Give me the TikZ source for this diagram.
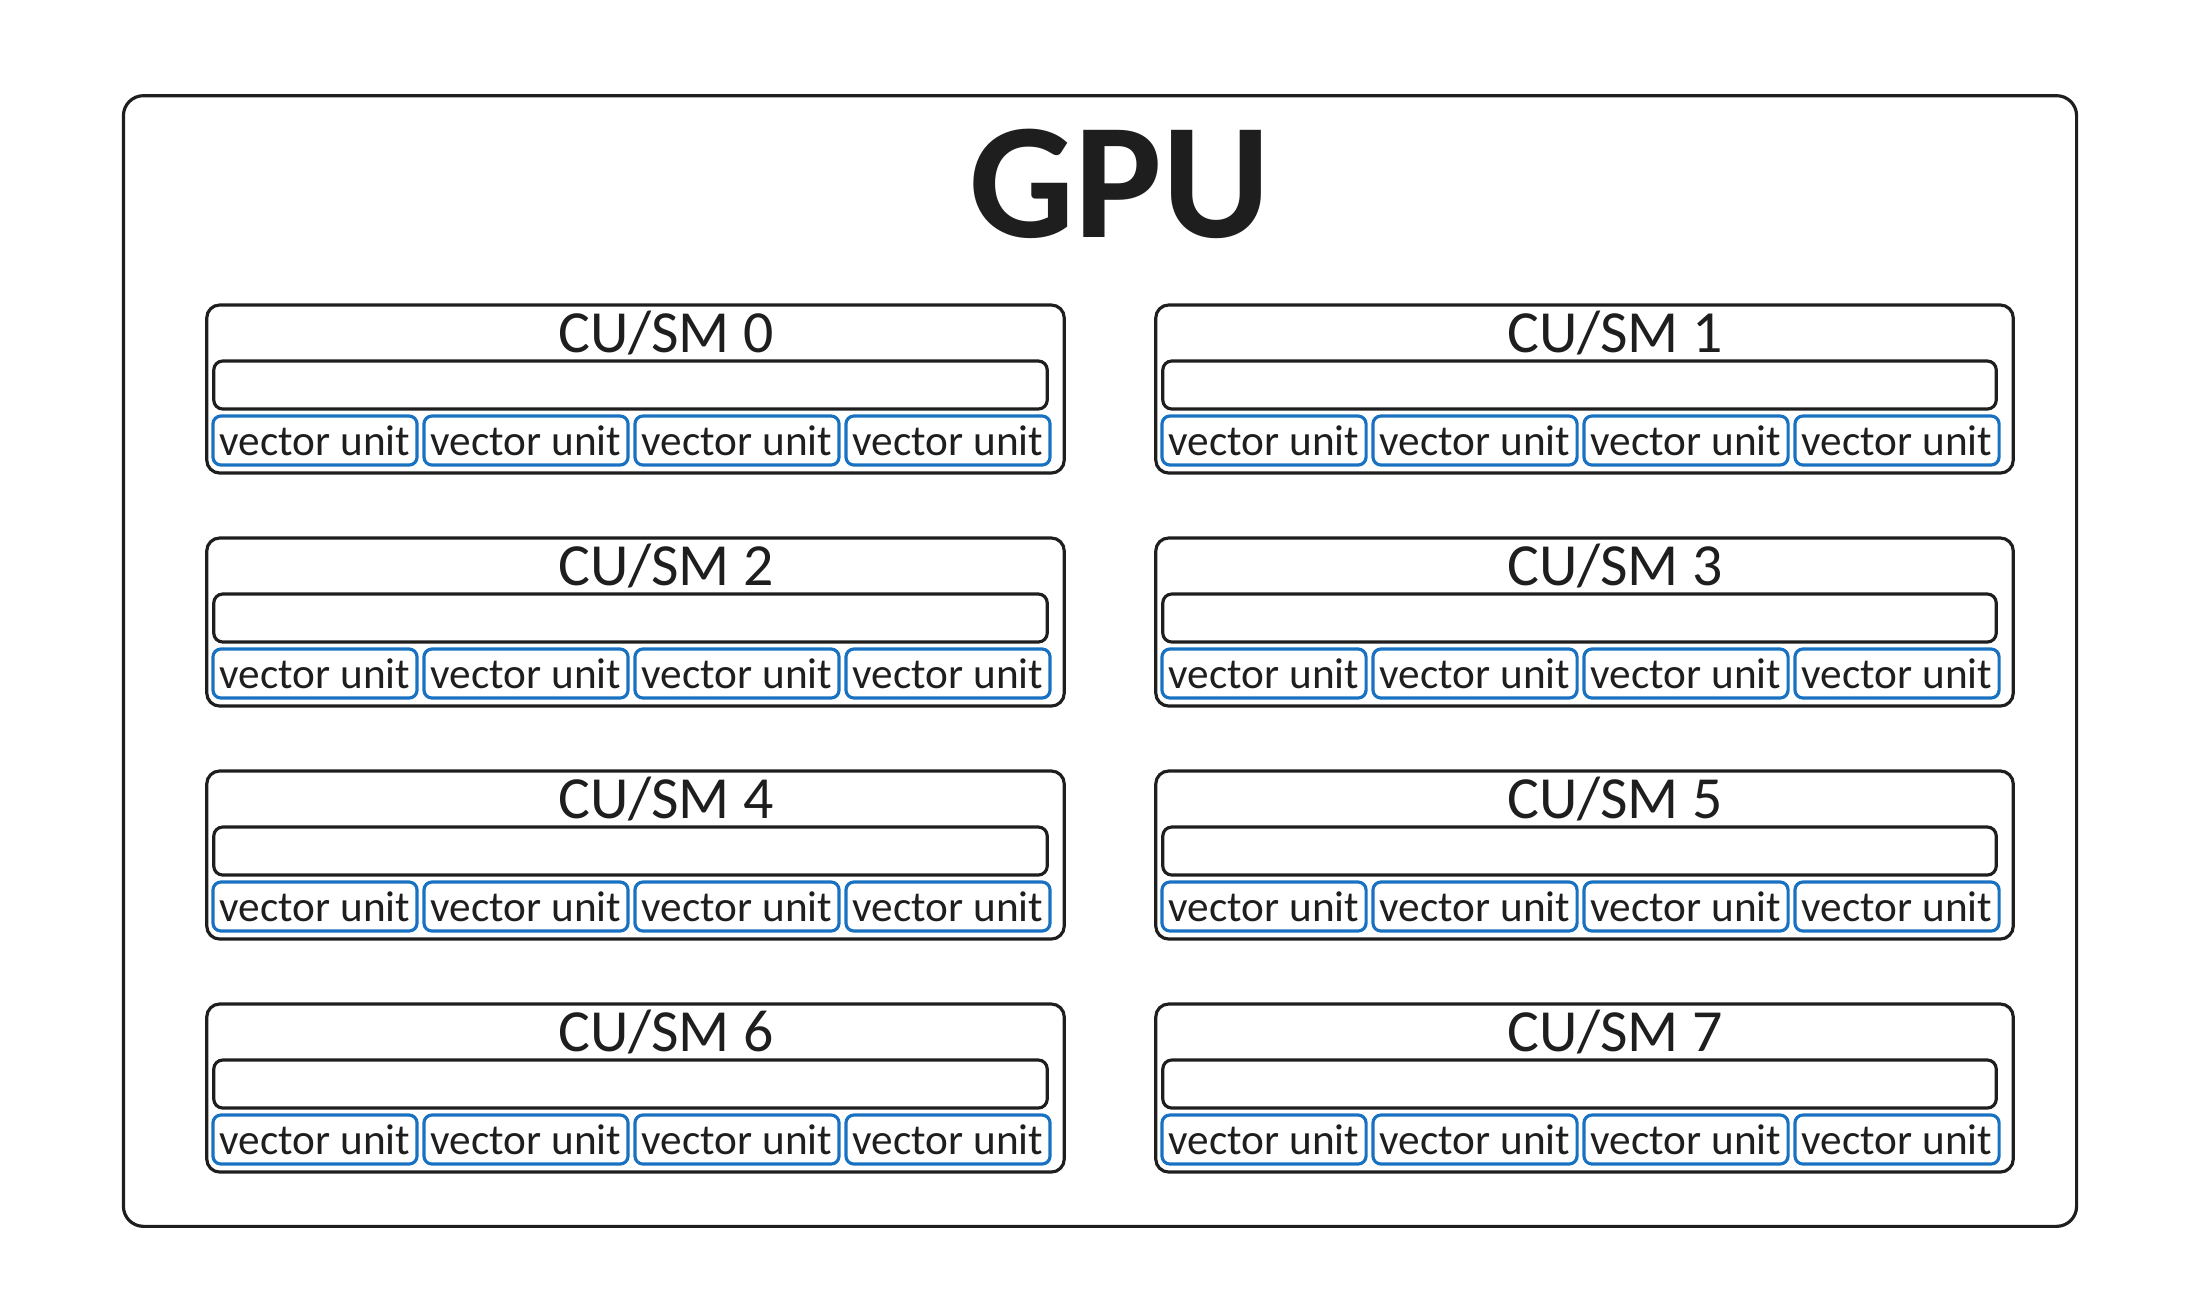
\documentclass[tikz,border=0pt]{standalone}
\usepackage{fontspec}
\setmainfont{Carlito}
\definecolor{ink}{HTML}{1E1E1E}
\definecolor{vblue}{HTML}{1971C2}
\begin{document}
\begin{tikzpicture}[x=0.01cm,y=-0.01cm,
  gpubox/.style={draw=ink, line width=0.9pt, rounded corners=0.2cm, minimum width=19.52cm, minimum height=11.30cm, inner sep=0pt},
  cubox/.style={draw=ink, line width=0.9pt, rounded corners=0.13cm, minimum width=8.57cm, minimum height=1.68cm, inner sep=0pt},
  busbox/.style={draw=ink, line width=0.9pt, rounded corners=0.09cm, minimum width=8.33cm, minimum height=0.48cm, inner sep=0pt},
  vecbox/.style={draw=vblue, line width=0.9pt, rounded corners=0.08cm, minimum width=2.04cm, minimum height=0.49cm, inner sep=0pt, text=ink, font=\fontsize{12.3}{14}\selectfont},
  cutitle/.style={anchor=base, text=ink, font=\fontsize{17}{20}\selectfont, inner sep=0pt}]
\useasboundingbox (0,0) rectangle (2195,1308);
\node[gpubox] (gpu) at (1100,661) {};
\node[anchor=base, text=ink, inner sep=0pt, font=\bfseries\fontsize{47}{47}\selectfont] (gputitle) at (1120,237) {GPU};
% eight compute units, two columns
\foreach \i in {0,...,7} {
  \pgfmathtruncatemacro{\col}{mod(\i,2)}
  \pgfmathtruncatemacro{\row}{div(\i,2)}
  \pgfmathsetmacro{\lx}{207+949*\col}
  \pgfmathsetmacro{\ty}{305+233*\row}
  \node[cubox] (cu\i) at (\lx+428.5,\ty+84) {};
  \node[cutitle] (cut\i) at (\lx+459,\ty+47) {CU/SM \i};
  \node[busbox] (bus\i) at (\lx+423.5,\ty+80) {};
  \foreach \j in {0,...,3}
    \node[vecbox] (vu\i\j) at (\lx+108+211*\j,\ty+135.5) {vector unit};
}
\end{tikzpicture}
\end{document}
